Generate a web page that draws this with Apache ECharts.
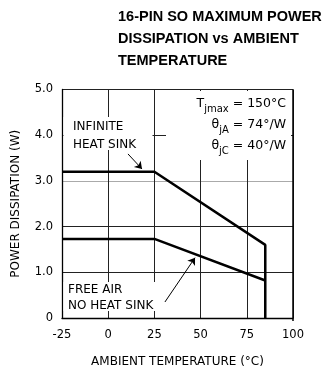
<!DOCTYPE html>
<html><head><meta charset="utf-8">
<script src="https://cdn.jsdelivr.net/npm/echarts@6/dist/echarts.min.js"></script>
<style>html,body{margin:0;padding:0;background:#fff}#c{width:329px;height:373px}</style>
</head><body><div id="c"></div>
<script>
const xTicks = [-25, 0, 25, 50, 75, 100];
const yTicks = [0, 1, 2, 3, 4, 5];
const infiniteHeatSink = [[-25, 3.2], [25, 3.2], [85, 1.6], [85, 0]];
const freeAir = [[-25, 1.73], [25, 1.73], [85, 0.82]];
const arrowInfinite = [[10.7, 3.59], [18.3, 3.26]];
const arrowFreeAir = [[30.7, 0.35], [47, 1.32]];
const specLines = [['T', 'jmax', ' = 150°C'], ['θ', 'jA', ' = 74°/W'], ['θ', 'jC', ' = 40°/W']];

const F = 'DejaVu Sans';
const mainFont = '12.5px "DejaVu Sans"';
const subFont = '10px "DejaVu Sans"';
const mctx = document.createElement('canvas').getContext('2d');
function tw(t, f) { mctx.font = f; return mctx.measureText(t).width; }

const specGraphics = [];
specLines.forEach((ln, i) => {
  const cy = 104 + i * 21;
  let xr = 286;
  const w3 = tw(ln[2], mainFont), w2 = tw(ln[1], subFont);
  specGraphics.push({ type: 'text', z: 5, x: xr - w3, y: cy, style: { text: ln[2], font: mainFont, fill: '#000', verticalAlign: 'middle' } });
  xr -= w3;
  specGraphics.push({ type: 'text', z: 5, x: xr - w2, y: cy + 5, style: { text: ln[1], font: subFont, fill: '#000', verticalAlign: 'middle' } });
  xr -= w2;
  specGraphics.push({ type: 'text', z: 5, x: xr - tw(ln[0], mainFont), y: cy, style: { text: ln[0], font: mainFont, fill: '#000', verticalAlign: 'middle' } });
});

const gridColors = ['#222', '#222', '#222', '#aaa', '#222', '#222'];

const chart = echarts.init(document.getElementById('c'));
chart.setOption({
  animation: false,
  title: {
    text: '16-PIN SO MAXIMUM POWER\nDISSIPATION vs AMBIENT\nTEMPERATURE',
    left: 118, top: 6, padding: 0,
    textStyle: { fontFamily: 'Liberation Sans', fontWeight: 'bold', fontSize: 14.5, lineHeight: 22, color: '#000' }
  },
  grid: { left: 62, right: 36, top: 89.5, bottom: 52 },
  xAxis: {
    type: 'value', min: -25, max: 100, interval: 25,
    name: 'AMBIENT TEMPERATURE (°C)', nameLocation: 'middle', nameGap: 38,
    nameTextStyle: { fontFamily: F, fontSize: 12, color: '#000' },
    axisLine: { show: true, onZero: false, lineStyle: { color: '#000', width: 1.3 } },
    axisTick: { show: false },
    axisLabel: { fontFamily: F, fontSize: 11.5, color: '#000', margin: 11 },
    splitLine: { show: true, lineStyle: { color: '#222', width: 1 } }
  },
  yAxis: {
    type: 'value', min: 0, max: 5, interval: 1,
    name: 'POWER DISSIPATION (W)', nameLocation: 'middle', nameGap: 40,
    nameTextStyle: { fontFamily: F, fontSize: 12, color: '#000' },
    axisLine: { show: true, onZero: false, lineStyle: { color: '#000', width: 1.3 } },
    axisTick: { show: false },
    axisLabel: { fontFamily: F, fontSize: 11.5, color: '#000', margin: 9,
      formatter: v => v === 0 ? '0' : v.toFixed(1) },
    splitLine: { show: true, lineStyle: { color: gridColors, width: 1 } }
  },
  series: [
    { type: 'line', z: 3, data: infiniteHeatSink, symbol: 'none', lineStyle: { color: '#000', width: 2.5 },
      markLine: { silent: true, symbol: ['none', 'arrow'], symbolSize: 7, label: { show: false },
        lineStyle: { color: '#000', width: 1, type: 'solid' },
        data: [[{ coord: arrowInfinite[0] }, { coord: arrowInfinite[1] }]] } },
    { type: 'line', z: 3, data: freeAir, symbol: 'none', lineStyle: { color: '#000', width: 2.5 },
      markLine: { silent: true, symbol: ['none', 'arrow'], symbolSize: 7, label: { show: false },
        lineStyle: { color: '#000', width: 1, type: 'solid' },
        data: [[{ coord: arrowFreeAir[0] }, { coord: arrowFreeAir[1] }]] } }
  ],
  graphic: [
    { type: 'rect', z: 1, shape: { x: 166, y: 91, width: 125, height: 69 }, style: { fill: '#fff' } },
    { type: 'rect', z: 1, shape: { x: 63.5, y: 117, width: 89, height: 33 }, style: { fill: '#fff' } },
    { type: 'rect', z: 1, shape: { x: 63.5, y: 282, width: 96, height: 29 }, style: { fill: '#fff' } },
    { type: 'line', z: 5, shape: { x1: 293, y1: 89.5, x2: 293, y2: 321 }, style: { stroke: '#000', lineWidth: 1.5 } },
    { type: 'text', z: 5, left: 73, top: 118, style: { text: 'INFINITE\nHEAT SINK', font: '12px "DejaVu Sans"', lineHeight: 18, fill: '#000' } },
    { type: 'text', z: 5, left: 68, top: 282, style: { text: 'FREE AIR\nNO HEAT SINK', font: '12px "DejaVu Sans"', lineHeight: 16, fill: '#000' } }
  ].concat(specGraphics)
});
</script></body></html>
